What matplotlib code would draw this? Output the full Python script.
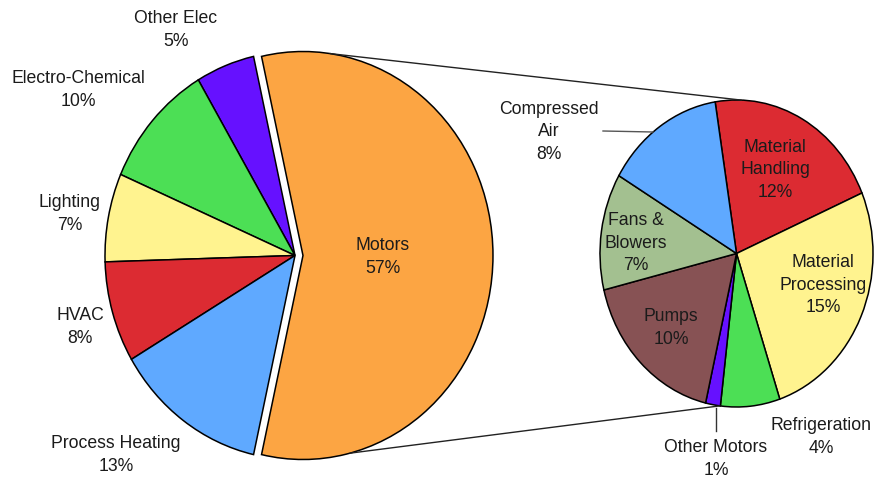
import numpy as np
import matplotlib
matplotlib.use("Agg")
import matplotlib.pyplot as plt
from matplotlib.patches import ConnectionPatch

plt.rcParams["font.family"] = ["Liberation Sans", "DejaVu Sans"]

# Industrial electricity end use (% of total)
main_labels = ["Motors", "Other Elec", "Electro-Chemical", "Lighting", "HVAC", "Process Heating"]
main_values = [57, 5, 10, 7, 8, 13]
main_colors = ["#FCA543", "#6611FF", "#4CDF55", "#FFF38F", "#DC2B32", "#5FA9FF"]

# Breakdown of motor use (% of total)
sub_labels = ["Material Handling", "Material Processing", "Refrigeration", "Other Motors",
              "Pumps", "Fans & Blowers", "Compressed Air"]
sub_values = [12, 15, 4, 1, 10, 7, 8]
sub_colors = ["#DC2B32", "#FFF38F", "#4CDF55", "#6611FF", "#875254", "#A3C090", "#5FA9FF"]

W, H = 875, 482
fig = plt.figure(figsize=(W / 100, H / 100), dpi=100)

TXT = dict(fontsize=12.7, color="#1b1b1b", ha="center", va="center", linespacing=1.45)
EDGE = dict(edgecolor="black", linewidth=1.1)


def pie_axes(cx, cy, rx, ry):
    """Axes spanning the figure in which the unit circle becomes an ellipse at (cx, cy) px."""
    ax = fig.add_axes([0, 0, 1, 1])
    ax.patch.set_alpha(0)
    return ax, ((0 - cx) / rx, (W - cx) / rx), ((cy - H) / ry, cy / ry)


# main pie
ax1, xl1, yl1 = pie_axes(295, 255.5, 190, 204)
motor_span = main_values[0] / sum(main_values) * 360
explode = [0.042] + [0] * (len(main_values) - 1)
ax1.pie(main_values, colors=main_colors, startangle=-motor_span / 2, counterclock=True,
        explode=explode, wedgeprops=EDGE, frame=False)
ax1.set_xlim(*xl1)
ax1.set_ylim(*yl1)
ax1.set_aspect("auto")
ax1.axis("off")

# motor breakdown pie
ax2, xl2, yl2 = pie_axes(736.5, 253.5, 136.5, 153.5)
ax2.pie(sub_values, colors=sub_colors, startangle=99, counterclock=False,
        wedgeprops=EDGE, frame=False)
ax2.set_xlim(*xl2)
ax2.set_ylim(*yl2)
ax2.set_aspect("auto")
ax2.axis("off")

# connector lines between the Motors wedge and the breakdown pie
def on_circle(deg, dx=0.0):
    t = np.deg2rad(deg)
    return (np.cos(t) + dx, np.sin(t))

for a1, a2 in [(81.8, 88), (-75.7, -97)]:
    con = ConnectionPatch(xyA=on_circle(a1, 0.042), coordsA=ax1.transData,
                          xyB=on_circle(a2), coordsB=ax2.transData,
                          color="#222222", linewidth=1.0)
    fig.add_artist(con)

# overlay for labels and leader lines in pixel coordinates
ov = fig.add_axes([0, 0, 1, 1])
ov.set_xlim(0, W)
ov.set_ylim(H, 0)
ov.axis("off")
ov.patch.set_alpha(0)

main_pos = {
    "Motors": (383, 257),
    "Other Elec": (176, 30),
    "Electro-Chemical": (78, 90),
    "Lighting": (70, 214),
    "HVAC": (80, 327),
    "Process Heating": (116, 455),
}
for name, val in zip(main_labels, main_values):
    x, y = main_pos[name]
    ov.text(x, y, f"{name}\n{val}%", **TXT)

sub_pos = {
    "Material Handling": (775, 170, "Material\nHandling"),
    "Material Processing": (823, 285, "Material\nProcessing"),
    "Refrigeration": (821, 437, "Refrigeration"),
    "Other Motors": (716, 459, "Other Motors"),
    "Pumps": (671, 328, "Pumps"),
    "Fans & Blowers": (636, 243, "Fans &\nBlowers"),
    "Compressed Air": (549, 132, "Compressed\nAir"),
}
for name, val in zip(sub_labels, sub_values):
    x, y, txt = sub_pos[name]
    ov.text(x, y, f"{txt}\n{val}%", **TXT)

# leader lines for the outside labels
ov.plot([603, 653], [131, 132], color="#555555", linewidth=1.0)
ov.plot([716, 716], [408, 431], color="#333333", linewidth=1.0)

fig.savefig("out.png", dpi=100, facecolor="white")
